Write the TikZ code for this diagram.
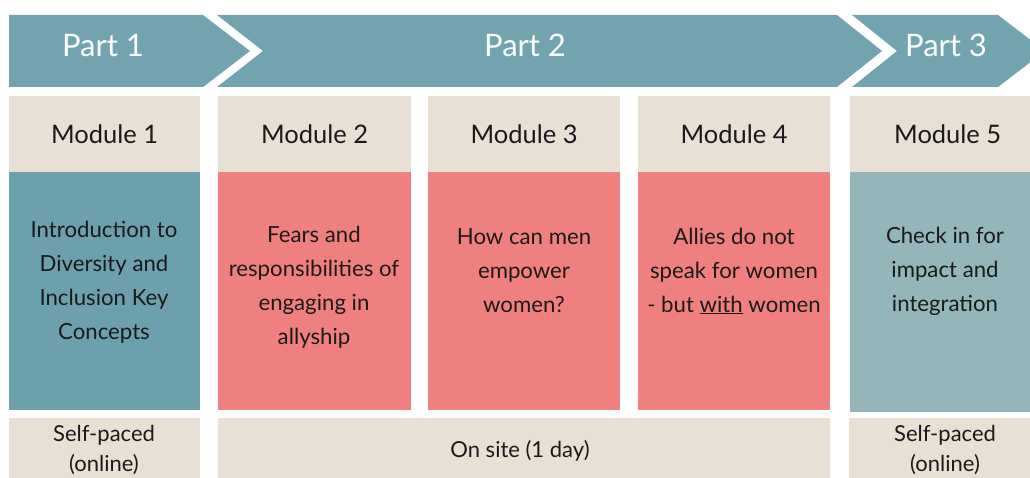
\documentclass[tikz,border=0pt]{standalone}
\usepackage{fontspec}
\setmainfont{Lato}
\definecolor{teal}{HTML}{72A4AF}
\definecolor{tealdark}{HTML}{6DA0AD}
\definecolor{teallight}{HTML}{94B5B9}
\definecolor{rose}{HTML}{F08080}
\definecolor{sand}{HTML}{E8E0D5}
\definecolor{ink}{HTML}{1A1A1A}
\begin{document}
\begin{tikzpicture}[x=1pt,y=-1pt,
  cell/.style={rectangle,inner sep=0pt,anchor=north west,text=ink},
  parttext/.style={text=white,font=\fontsize{31}{32}\selectfont},
  headtext/.style={text=ink,font=\fontsize{25.5}{28}\selectfont},
  bodytext/.style={text=ink,align=center,font=\fontsize{22.2}{34}\selectfont},
  foottext/.style={text=ink,align=center,font=\fontsize{22}{30}\selectfont}]
\useasboundingbox (0,0) rectangle (1030,478);
\clip (0,0) rectangle (1030,478);

% chevron banner
\fill[teal] (9,15) -- (203,15) -- (250,51) -- (203,87) -- (9,87) -- cycle;
\fill[teal] (217,15) -- (837,15) -- (882,51) -- (837,87) -- (217,87) -- (263,51) -- cycle;
\fill[teal] (852,15) -- (998,15) -- (1045,51) -- (998,87) -- (852,87) -- (897,51) -- cycle;
\node[parttext] (p1) at (103,45) {Part 1};
\node[parttext] (p2) at (525,45) {Part 2};
\node[parttext] (p3) at (946,45) {Part 3};

% module headers
\node[cell,fill=sand,minimum width=191,minimum height=76] (h1) at (9,96) {};
\node[cell,fill=sand,minimum width=193,minimum height=76] (h2) at (218,96) {};
\node[cell,fill=sand,minimum width=192,minimum height=76] (h3) at (428,96) {};
\node[cell,fill=sand,minimum width=192,minimum height=76] (h4) at (638,96) {};
\node[cell,fill=sand,minimum width=195,minimum height=76] (h5) at (850,96) {};
\node[headtext] at (h1.center) {Module 1};
\node[headtext] at (h2.center) {Module 2};
\node[headtext] at (h3.center) {Module 3};
\node[headtext] at (h4.center) {Module 4};
\node[headtext] at (h5.center) {Module 5};

% module bodies
\node[cell,fill=tealdark,minimum width=191,minimum height=238] (b1) at (9,172) {};
\node[cell,fill=rose,minimum width=193,minimum height=238] (b2) at (218,172) {};
\node[cell,fill=rose,minimum width=192,minimum height=238] (b3) at (428,172) {};
\node[cell,fill=rose,minimum width=192,minimum height=238] (b4) at (638,172) {};
\node[cell,fill=teallight,minimum width=195,minimum height=240] (b5) at (850,172) {};
\node[bodytext] (t1) at (104,282) {Introduction to\\Diversity and\\Inclusion Key\\Concepts};
\node[bodytext] (t2) at (314,287) {Fears and\\responsibilities of\\engaging in\\allyship};
\node[bodytext] (t3) at (524,271) {How can men\\empower\\women?};
\node[bodytext] (t4) at (734,271) {Allies do not\\speak for women\\- but \underline{with} women};
\node[bodytext] (t5) at (945,271) {Check in for\\impact and\\integration};

% delivery row
\node[cell,fill=sand,minimum width=191,minimum height=70] (f1) at (9,418) {};
\node[cell,fill=sand,minimum width=612,minimum height=70] (f2) at (218,418) {};
\node[cell,fill=sand,minimum width=195,minimum height=70] (f3) at (849,418) {};
\node[foottext] at (104,450) {Self-paced\\(online)};
\node[foottext] at (520,451) {On site (1 day)};
\node[foottext] at (945,450) {Self-paced\\(online)};
\end{tikzpicture}
\end{document}
